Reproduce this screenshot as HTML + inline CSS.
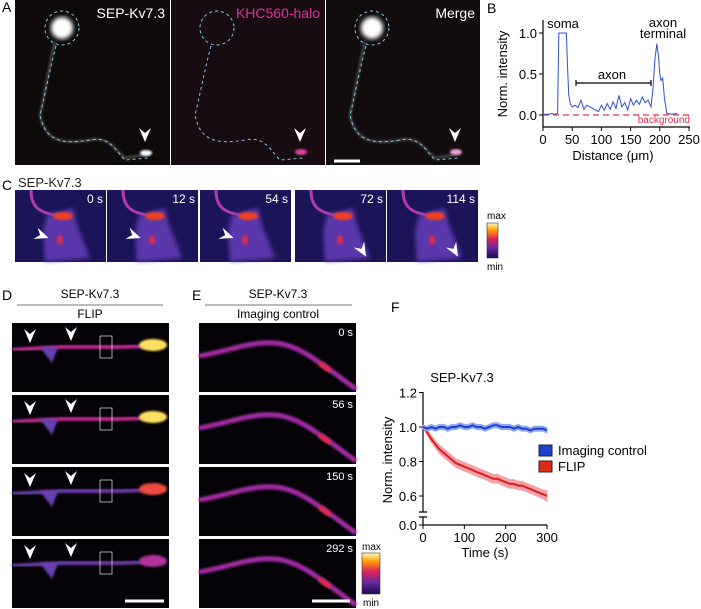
<!DOCTYPE html>
<html><head><meta charset="utf-8"><style>
html,body{margin:0;padding:0;background:#fff}
svg{display:block;font-family:"Liberation Sans",Arial,sans-serif}
</style></head><body>
<svg id="fig" width="701" height="609" viewBox="0 0 701 609" xmlns="http://www.w3.org/2000/svg">
<defs>
<filter id="blur2"><feGaussianBlur stdDeviation="2"/></filter>
<filter id="blur1"><feGaussianBlur stdDeviation="1"/></filter>
<filter id="blur4"><feGaussianBlur stdDeviation="4"/></filter>
<linearGradient id="fire" x1="0" y1="1" x2="0" y2="0">
<stop offset="0" stop-color="#1a0a50"/><stop offset="0.3" stop-color="#6a2aa0"/><stop offset="0.55" stop-color="#e0205a"/><stop offset="0.8" stop-color="#ffa000"/><stop offset="1" stop-color="#ffffc0"/></linearGradient>
<symbol id="arrow" viewBox="-6 -10 12 14" overflow="visible"><path d="M-6,-10 L0,4 L6,-10 L0,-5 Z" fill="#fff"/></symbol>
</defs>

<g>
<text x="2" y="12" font-size="14">A</text>
<g>
<rect x="15" y="0" width="155" height="165" fill="#0e0a0a"/>
<circle cx="62" cy="28" r="11" fill="#fff" filter="url(#blur2)"/>
<path d="M55,42 C48,70 44,100 40,115 C45,140 60,145 90,140 C110,136 115,150 125,158 L150,154" stroke="#555" stroke-width="2" fill="none" filter="url(#blur1)"/>
<ellipse cx="146" cy="153" rx="6" ry="3" fill="#fff" filter="url(#blur1)"/>
<circle cx="62" cy="28" r="17" fill="none" stroke="#7cc8e0" stroke-dasharray="3,3"/>
<path d="M56,46 C49,72 44,100 40,115 C45,140 60,145 90,140 C110,136 115,150 125,160 L148,158" stroke="#7cc8e0" stroke-dasharray="3,3" fill="none"/>
<use href="#arrow" x="139" y="128" width="12" height="14"/>
<text x="165" y="18" text-anchor="end" font-size="14" fill="#fff">SEP-Kv7.3</text>
</g>
<g>
<rect x="171" y="0" width="154" height="165" fill="#180c12"/>
<circle cx="217" cy="28" r="17" fill="none" stroke="#7cc8e0" stroke-dasharray="3,3"/>
<path d="M211,46 C204,72 199,100 195,115 C200,140 215,145 245,140 C265,136 270,150 280,160 L303,158" stroke="#7cc8e0" stroke-dasharray="3,3" fill="none"/>
<ellipse cx="301" cy="152" rx="6" ry="3" fill="#e040a0" filter="url(#blur1)"/>
<use href="#arrow" x="294" y="128" width="12" height="14"/>
<text x="320" y="18" text-anchor="end" font-size="14" fill="#e0309a">KHC560-halo</text>
</g>
<g>
<rect x="326" y="0" width="154" height="165" fill="#120c0e"/>
<circle cx="372" cy="28" r="11" fill="#fff" filter="url(#blur2)"/>
<path d="M365,42 C358,70 354,100 350,115 C355,140 370,145 400,140 C420,136 425,150 435,158 L460,154" stroke="#555" stroke-width="2" fill="none" filter="url(#blur1)"/>
<ellipse cx="456" cy="152" rx="6" ry="3" fill="#f0a0e0" filter="url(#blur1)"/>
<circle cx="372" cy="28" r="17" fill="none" stroke="#7cc8e0" stroke-dasharray="3,3"/>
<path d="M366,46 C359,72 354,100 350,115 C355,140 370,145 400,140 C420,136 425,150 435,160 L458,158" stroke="#7cc8e0" stroke-dasharray="3,3" fill="none"/>
<use href="#arrow" x="449" y="128" width="12" height="14"/>
<line x1="334" y1="161" x2="360" y2="161" stroke="#fff" stroke-width="3"/>
<text x="475" y="18" text-anchor="end" font-size="14" fill="#fff">Merge</text>
</g>
</g>

<g id="panelC">
<text x="2" y="190" font-size="14">C</text>
<text x="18" y="187" font-size="13" fill="#222">SEP-Kv7.3</text>
<text x="487" y="219" font-size="10">max</text>
<rect x="487" y="223" width="11" height="35" fill="url(#fire)" stroke="#333" stroke-width="0.6"/>
<text x="487" y="270" font-size="10">min</text>
</g>

<g id="panelDE">
<text x="2" y="300" font-size="14">D</text>
<text x="90" y="298" text-anchor="middle" font-size="12">SEP-Kv7.3</text>
<line x1="17" y1="305" x2="163" y2="305" stroke="#777"/>
<text x="90" y="318" text-anchor="middle" font-size="12">FLIP</text>
<text x="192" y="300" font-size="14">E</text>
<text x="278" y="298" text-anchor="middle" font-size="12">SEP-Kv7.3</text>
<line x1="205" y1="305" x2="352" y2="305" stroke="#777"/>
<text x="278" y="318" text-anchor="middle" font-size="12">Imaging control</text>
<text x="362" y="550" font-size="10">max</text>
<rect x="362" y="553" width="18" height="41" fill="url(#fire)" stroke="#333" stroke-width="0.6"/>
<text x="363" y="606" font-size="10">min</text>
</g>

<g id="chartB">
<text x="487" y="13" font-size="14">B</text>
</g>

<g id="chartF">
<text x="391" y="312" font-size="14">F</text>
</g>
</svg>
<script>
var NS="http://www.w3.org/2000/svg";
function mk(parent,tag,attrs,txt){var e=document.createElementNS(NS,tag);for(var k in attrs)e.setAttribute(k,attrs[k]);if(txt!==undefined)e.textContent=txt;parent.appendChild(e);return e;}

var bDistance=[0,5,10,15,20,25,27,30,35,40,42,44,47,50,55,60,65,70,75,80,85,90,95,100,105,110,115,120,125,130,135,140,145,150,155,160,165,170,175,180,185,188,192,195,198,200,202,205,208,212,220,230];
var bIntensity=[0.01,0.01,0.01,0.02,0.01,0.02,1.0,1.0,1.0,1.0,0.6,0.25,0.13,0.1,0.12,0.09,0.18,0.07,0.12,0.1,0.08,0.06,0.04,0.12,0.06,0.14,0.07,0.16,0.08,0.24,0.1,0.15,0.06,0.2,0.12,0.18,0.13,0.22,0.15,0.18,0.1,0.3,0.7,0.87,0.7,0.5,0.42,0.45,0.2,0.02,0.01,0.02];
var bXTicks=[0,50,100,150,200,250];
var bYTicks=[0.0,0.5,1.0];
(function(){
 var g=document.getElementById('chartB');
 function X(d){return 543+d*146/250;}
 function Y(v){return 115-v*82;}
 var ax=mk(g,'path',{d:'M543,20 L543,127 L690,127',stroke:'#000','stroke-width':1.2,fill:'none'});
 
 
 bXTicks.forEach(function(t){
  mk(g,'line',{x1:X(t),y1:127,x2:X(t),y2:131,stroke:'#000'});
  var tx=mk(g,'text',{x:X(t),y:144,'text-anchor':'middle','font-size':13},String(t));
  
  
 });
 bYTicks.forEach(function(t){
  mk(g,'line',{x1:539,y1:Y(t),x2:543,y2:Y(t),stroke:'#000'});
  var ty=mk(g,'text',{x:537,y:Y(t)+5,'text-anchor':'end','font-size':13},t.toFixed(1));
  
  
 });
 var bg=mk(g,'line',{x1:543,y1:Y(0),x2:690,y2:Y(0),stroke:'#e03050','stroke-width':1.3,'stroke-dasharray':'6,4'});
 
 
 var bt=mk(g,'text',{x:690,y:123,'text-anchor':'end','font-size':10,fill:'#e03050'},'background');
 
 
 var d='';bDistance.forEach(function(x,i){d+=(i?'L':'M')+X(x).toFixed(1)+','+Y(bIntensity[i]).toFixed(1);});
 var pl=mk(g,'path',{d:d,stroke:'#3050d0','stroke-width':1,fill:'none'});
 
 
 mk(g,'path',{d:'M576,80 L576,86 M576,83 L651,83 M651,80 L651,86',stroke:'#000','stroke-width':1.2,fill:'none'});
 var l1=mk(g,'text',{x:612,y:79,'text-anchor':'middle','font-size':13},'axon');
 
 var l2=mk(g,'text',{x:563,y:28,'text-anchor':'middle','font-size':13},'soma');
 
 var l3=mk(g,'text',{x:663,y:27,'text-anchor':'middle','font-size':13},'axon');
 
 mk(g,'text',{x:663,y:38,'text-anchor':'middle','font-size':13},'terminal');
 var yt=mk(g,'text',{x:0,y:0,'text-anchor':'middle','font-size':13,transform:'translate(507,74) rotate(-90)'},'Norm. intensity');
 
 var xt=mk(g,'text',{x:613,y:160,'text-anchor':'middle','font-size':13},'Distance (\u03bcm)');
 
})();

var fTime=[0,10,20,30,40,50,60,70,80,90,100,110,120,130,140,150,160,170,180,190,200,210,220,230,240,250,260,270,280,290,300];
var fControl=[1.0,0.99,1.0,0.99,1.0,1.0,0.99,1.0,1.0,1.01,1.0,1.0,1.01,1.0,1.0,0.99,1.0,1.01,1.01,1.0,1.0,1.0,0.99,1.0,0.99,0.99,0.98,0.99,0.99,0.99,0.98];
var fControlErr=[0.01,0.015,0.015,0.015,0.015,0.015,0.015,0.015,0.015,0.015,0.015,0.015,0.015,0.015,0.015,0.015,0.015,0.015,0.015,0.015,0.015,0.015,0.015,0.015,0.015,0.015,0.015,0.015,0.015,0.015,0.015];
var fFlip=[1.0,0.97,0.93,0.9,0.87,0.85,0.83,0.81,0.79,0.78,0.77,0.76,0.75,0.74,0.73,0.72,0.71,0.7,0.7,0.69,0.68,0.67,0.67,0.66,0.66,0.65,0.64,0.63,0.62,0.61,0.6];
var fFlipErr=[0.005,0.015,0.02,0.02,0.025,0.025,0.025,0.025,0.025,0.025,0.025,0.025,0.025,0.025,0.025,0.025,0.025,0.025,0.025,0.025,0.025,0.025,0.025,0.025,0.025,0.025,0.025,0.025,0.025,0.025,0.03];
var fXTicks=[0,100,200,300];
var fYTicks=[0.6,0.8,1.0,1.2];
(function(){
 var g=document.getElementById('chartF');
 function X(t){return 423+t*124/300;}
 function Y(v){return 427-(v-1)*172.5;}
 var title=mk(g,'text',{x:462,y:382,'text-anchor':'middle','font-size':13},'SEP-Kv7.3');
 
 var ax=mk(g,'path',{d:'M423,392 L423,512 M419,512 L427,512 M419,517 L427,517 M423,517 L423,525 L547,525',stroke:'#000','stroke-width':1.2,fill:'none'});
 
 fYTicks.forEach(function(t){
  mk(g,'line',{x1:419,y1:Y(t),x2:423,y2:Y(t),stroke:'#000'});
  var ty=mk(g,'text',{x:417,y:Y(t)+5,'text-anchor':'end','font-size':13},t.toFixed(1));
  
 });
 mk(g,'line',{x1:419,y1:525,x2:423,y2:525,stroke:'#000'});
 var z=mk(g,'text',{x:417,y:530,'text-anchor':'end','font-size':13},'0.0');
 
 fXTicks.forEach(function(t){
  mk(g,'line',{x1:X(t),y1:525,x2:X(t),y2:529,stroke:'#000'});
  var tx=mk(g,'text',{x:X(t),y:542,'text-anchor':'middle','font-size':13},String(t));
  
 });
 function band(vals,err,fill,stroke,name){
  var up='',dn='';
  fTime.forEach(function(t,i){up+=(i?'L':'M')+X(t).toFixed(1)+','+Y(vals[i]+err[i]).toFixed(1);});
  for(var i=fTime.length-1;i>=0;i--){dn+='L'+X(fTime[i]).toFixed(1)+','+Y(vals[i]-err[i]).toFixed(1);}
  var b=mk(g,'path',{d:up+dn+'Z',fill:fill,stroke:fill,'stroke-width':1});
  
  var d='';fTime.forEach(function(t,i){d+=(i?'L':'M')+X(t).toFixed(1)+','+Y(vals[i]).toFixed(1);});
  var l=mk(g,'path',{d:d,stroke:stroke,'stroke-width':2,fill:'none'});
  
 }
 band(fFlip,fFlipErr,'#f4a0a8','#d82020','flip');
 band(fControl,fControlErr,'#90a8f0','#2040d0','control');
 var s1=mk(g,'rect',{x:539,y:445,width:13,height:11,fill:'#2040d0',stroke:'#223'});
 
 var t1=mk(g,'text',{x:558,y:455,'font-size':13},'Imaging control');
 
 var s2=mk(g,'rect',{x:539,y:461,width:13,height:11,fill:'#e02a1a',stroke:'#322'});
 
 var t2=mk(g,'text',{x:558,y:471,'font-size':13},'FLIP');
 
 var yt=mk(g,'text',{x:0,y:0,'text-anchor':'middle','font-size':13,transform:'translate(392,460) rotate(-90)'},'Norm. intensity');
 
 var xt=mk(g,'text',{x:485,y:557,'text-anchor':'middle','font-size':13},'Time (s)');
 
})();

var cLabels=['0 s','12 s','54 s','72 s','114 s'];
var cX=[15,107,200,295,387];
(function(){
 var g=document.getElementById('panelC');
 cX.forEach(function(x0,i){
  var p=mk(g,'g',{});
  
  
  mk(p,'rect',{x:x0,y:190,width:91,height:72,fill:'#1c1458'});
  mk(p,'path',{d:'M'+(x0+16)+',190 C'+(x0+16)+',205 '+(x0+22)+',212 '+(x0+40)+',215',stroke:'#b03ab0','stroke-width':3,fill:'none'});
  mk(p,'path',{d:'M'+(x0+32)+',215 L'+(x0+58)+',208 L'+(x0+62)+',225 L'+(x0+75)+',258 L'+(x0+30)+',262 L'+(x0+28)+',232 Z',fill:'#6a40c0',opacity:0.8,filter:'url(#blur2)'});
  mk(p,'ellipse',{cx:x0+48,cy:216,rx:10,ry:4,fill:'#f04020',filter:'url(#blur1)'});
  mk(p,'ellipse',{cx:x0+45,cy:240,rx:3,ry:5,fill:'#e02a50',filter:'url(#blur1)'});
  mk(p,'text',{x:x0+88,y:203,'text-anchor':'end','font-size':12,fill:'#fff'},cLabels[i]);
  if(i<3){mk(p,'use',{href:'#arrow',x:x0+22,y:228,width:12,height:14,transform:'rotate(-70 '+(x0+28)+' 236)'});}
  else{mk(p,'use',{href:'#arrow',x:x0+60,y:244,width:12,height:14,transform:'rotate(-30 '+(x0+66)+' 248)'});}
 });
})();

var dRowY=[323,395,467,539];
var eLabels=['0 s','56 s','150 s','292 s'];
var dBrightness=[1.0,0.8,0.55,0.35];
(function(){
 var g=document.getElementById('panelDE');
 dRowY.forEach(function(y0,i){
  var p=mk(g,'g',{});
  
  
  mk(p,'rect',{x:12,y:y0,width:157,height:69,fill:'#050308'});
  var b=dBrightness[i];
  mk(p,'path',{d:'M12,'+(y0+27)+' L60,'+(y0+24)+' L120,'+(y0+24)+' L165,'+(y0+22),stroke:i<2?'#c02a90':'#6a3aaa','stroke-width':4,fill:'none',filter:'url(#blur1)'});
  mk(p,'path',{d:'M40,'+(y0+24)+' L52,'+(y0+40)+' L58,'+(y0+24)+' Z',fill:'#6a40b0',filter:'url(#blur1)'});
  mk(p,'ellipse',{cx:153,cy:y0+22,rx:14,ry:6,fill:b>0.7?'#ffe060':(b>0.5?'#f04a40':'#b0309a'),filter:'url(#blur1)'});
  mk(p,'rect',{x:100,y:y0+13,width:12,height:22,fill:'none',stroke:'#ccc','stroke-width':0.8});
  mk(p,'use',{href:'#arrow',x:24,y:y0+6,width:12,height:14});
  mk(p,'use',{href:'#arrow',x:65,y:y0+4,width:12,height:14});
  if(i===3){mk(p,'line',{x1:125,y1:y0+62,x2:164,y2:y0+62,stroke:'#fff','stroke-width':3});}
  var q=mk(g,'g',{});
  
  
  mk(q,'rect',{x:199,y:y0,width:157,height:69,fill:'#050308'});
  mk(q,'path',{d:'M199,'+(y0+33)+' C230,'+(y0+28)+' 250,'+(y0+18)+' 275,'+(y0+20)+' C300,'+(y0+22)+' 320,'+(y0+40)+' 356,'+(y0+66),stroke:'#a02aa0','stroke-width':5,fill:'none',filter:'url(#blur1)'});
  mk(q,'ellipse',{cx:325,cy:y0+44,rx:8,ry:3,fill:'#e02a50',transform:'rotate(35 325 '+(y0+44)+')',filter:'url(#blur1)'});
  mk(q,'text',{x:353,y:y0+13,'text-anchor':'end','font-size':11,fill:'#fff'},eLabels[i]);
  if(i===3){mk(q,'line',{x1:312,y1:y0+62,x2:350,y2:y0+62,stroke:'#fff','stroke-width':3});}
 });
})();
</script>
</body></html>
